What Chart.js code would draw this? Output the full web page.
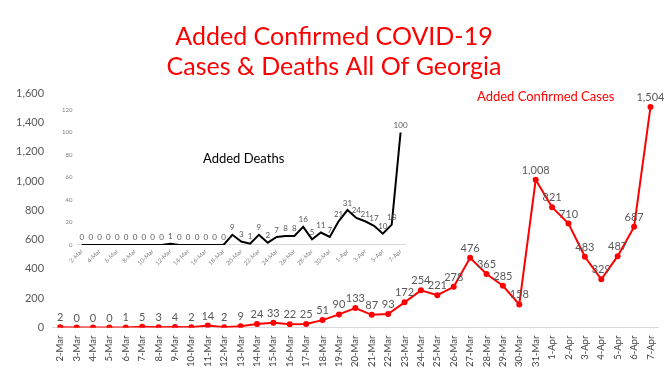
<!DOCTYPE html>
<html>
<head>
<meta charset="utf-8">
<script src="https://cdn.jsdelivr.net/npm/chart.js@4.4.0/dist/chart.umd.min.js"></script>
<style>
    html, body { margin: 0; padding: 0; background: #fff; }
    #wrap { position: relative; width: 670px; height: 375px; }
    #main { position: absolute; left: 0; top: 0; }
    #inset { position: absolute; left: 55px; top: 100px; }
</style>
</head>
<body>
<div id="wrap">
    <canvas id="main" width="670" height="375"></canvas>
    <canvas id="inset" width="360" height="170"></canvas>
</div>
<script>
// ------------------------------------------------------------------
// Data
// ------------------------------------------------------------------
const days = [
    '2-Mar', '3-Mar', '4-Mar', '5-Mar', '6-Mar', '7-Mar', '8-Mar', '9-Mar', '10-Mar',
    '11-Mar', '12-Mar', '13-Mar', '14-Mar', '15-Mar', '16-Mar', '17-Mar', '18-Mar',
    '19-Mar', '20-Mar', '21-Mar', '22-Mar', '23-Mar', '24-Mar', '25-Mar', '26-Mar',
    '27-Mar', '28-Mar', '29-Mar', '30-Mar', '31-Mar', '1-Apr', '2-Apr', '3-Apr',
    '4-Apr', '5-Apr', '6-Apr', '7-Apr'
];

const addedCases = [
    2, 0, 0, 0, 1, 5, 3, 4, 2, 14, 2, 9, 24, 33, 22, 25, 51, 90, 133, 87, 93,
    172, 254, 221, 278, 476, 365, 285, 158, 1008, 821, 710, 483, 329, 487, 687, 1504
];

const addedDeaths = [
    0, 0, 0, 0, 0, 0, 0, 0, 0, 0, 1, 0, 0, 0, 0, 0, 0, 9, 3, 1, 9,
    2, 7, 8, 8, 16, 5, 11, 7, 21, 31, 24, 21, 17, 10, 18, 100
];

const titleLines = ['Added Confirmed COVID-19', 'Cases & Deaths All Of Georgia'];

const FONT = 'Lato, "Open Sans", sans-serif';
const LABEL_GREY = '#595959';

// draws the value above every point
const valueLabels = {
    id: 'valueLabels',
    afterDatasetsDraw(chart, args, opts) {
        const ctx = chart.ctx;
        ctx.save();
        ctx.font = opts.size + 'px ' + FONT;
        ctx.fillStyle = LABEL_GREY;
        ctx.textAlign = 'center';
        ctx.textBaseline = 'bottom';
        chart.data.datasets.forEach((ds, di) => {
            const meta = chart.getDatasetMeta(di);
            meta.data.forEach((pt, i) => {
                ctx.fillText(ds.data[i].toLocaleString('en-US'), pt.x, pt.y - opts.gap);
            });
        });
        ctx.restore();
    }
};

// free floating series captions
const captions = {
    id: 'captions',
    afterDraw(chart, args, opts) {
        const ctx = chart.ctx;
        ctx.save();
        ctx.textBaseline = 'middle';
        ctx.textAlign = 'left';
        (opts.items || []).forEach(c => {
            ctx.font = c.size + 'px ' + FONT;
            ctx.fillStyle = c.color;
            ctx.fillText(c.text, c.x, c.y);
        });
        ctx.restore();
    }
};

// ------------------------------------------------------------------
// Main chart: added confirmed cases
// ------------------------------------------------------------------
new Chart(document.getElementById('main'), {
    type: 'line',
    data: {
        labels: days,
        datasets: [{
            label: 'Added Confirmed Cases',
            data: addedCases,
            borderColor: '#ff0000',
            backgroundColor: '#ff0000',
            borderWidth: 2,
            pointRadius: 2,
            pointHoverRadius: 2,
            tension: 0
        }]
    },
    options: {
        responsive: false,
        animation: false,
        layout: { padding: { left: 8, right: 10, top: 22, bottom: 0 } },
        plugins: {
            legend: { display: false },
            tooltip: { enabled: false },
            title: {
                display: true,
                text: titleLines,
                color: '#ff0000',
                font: { family: FONT, size: 25, weight: 'normal', lineHeight: 1.2 },
                padding: { top: 0, bottom: 11 }
            },
            valueLabels: { size: 11, gap: 4 },
            captions: {
                items: [
                    { text: 'Added Confirmed Cases', x: 477, y: 97, size: 13, color: '#ff0000' }
                ]
            }
        },
        scales: {
            x: {
                offset: true,
                grid: { display: false, drawTicks: false },
                border: { color: '#d9d9d9' },
                ticks: {
                    autoSkip: false,
                    minRotation: 90,
                    maxRotation: 90,
                    padding: 8,
                    color: '#404040',
                    font: { family: FONT, size: 9.5 }
                }
            },
            y: {
                min: 0,
                max: 1600,
                grid: { display: false, drawTicks: false },
                border: { display: false },
                ticks: {
                    stepSize: 200,
                    padding: 8,
                    color: LABEL_GREY,
                    font: { family: FONT, size: 11 },
                    callback: v => v.toLocaleString('en-US')
                }
            }
        }
    },
    plugins: [valueLabels, captions]
});

// ------------------------------------------------------------------
// Inset chart: added deaths
// ------------------------------------------------------------------
new Chart(document.getElementById('inset'), {
    type: 'line',
    data: {
        labels: days,
        datasets: [{
            label: 'Added Deaths',
            data: addedDeaths,
            borderColor: '#000000',
            borderWidth: 2,
            pointRadius: 0,
            tension: 0
        }]
    },
    options: {
        responsive: false,
        animation: false,
        layout: { padding: { left: 2, right: 10, top: 10, bottom: 0 } },
        plugins: {
            legend: { display: false },
            tooltip: { enabled: false },
            valueLabels: { size: 8, gap: 3 },
            captions: {
                items: [
                    { text: 'Added Deaths', x: 148, y: 59, size: 13, color: '#000000' }
                ]
            }
        },
        scales: {
            x: {
                offset: true,
                grid: { display: false, drawTicks: false },
                border: { color: '#d9d9d9' },
                ticks: {
                    autoSkip: false,
                    minRotation: 45,
                    maxRotation: 45,
                    padding: 3,
                    color: '#7f7f7f',
                    font: { family: FONT, size: 6 },
                    callback: function(value, index) {
                        return index % 2 === 0 ? this.getLabelForValue(value) : '';
                    }
                }
            },
            y: {
                min: 0,
                max: 120,
                grid: { display: false, drawTicks: false },
                border: { display: false },
                ticks: {
                    stepSize: 20,
                    padding: 5,
                    color: '#7f7f7f',
                    font: { family: FONT, size: 6 }
                }
            }
        }
    },
    plugins: [valueLabels, captions]
});
</script>
</body>
</html>
